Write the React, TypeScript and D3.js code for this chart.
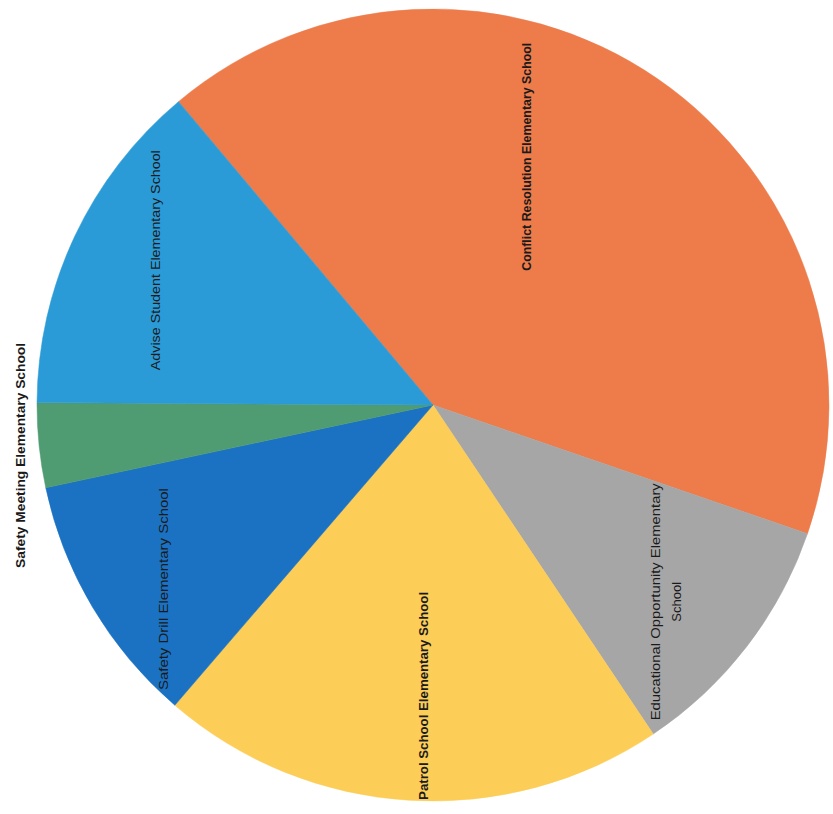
import React from "react";
import * as d3 from "d3";

// Data
const schools = [
  "Conflict Resolution Elementary School",
  "Educational Opportunity Elementary School",
  "Patrol School Elementary School",
  "Safety Drill Elementary School",
  "Safety Meeting Elementary School",
  "Advise Student Elementary School",
];
const counts = [12, 3, 6, 3, 1, 4];

// Styles / layout (not data)
const colors = ["#EE7B4A", "#A6A6A6", "#FCCD57", "#1B72C2", "#4F9B72", "#2B9BD7"];
const labelLines = [
  ["Conflict Resolution Elementary School"],
  ["Educational Opportunity Elementary", "School"],
  ["Patrol School Elementary School"],
  ["Safety Drill Elementary School"],
  ["Safety Meeting Elementary School"],
  ["Advise Student Elementary School"],
];
const labelBold = [true, false, true, false, true, false];
const labelAngleNudge = [-13.8, 2.6, -1.5, -3.6, -1.1, 2.4]; // degrees
const labelRadiusFrac = [0.67, 0.77, 0.735, 0.825, 1.05, 0.79];
const labelLength = [228, 237, 208, 202, 225, 220];

const W = 833;
const H = 814;
const cx = 433;
const cy = 405;
const R = 396;
const startDeg = -40;

export default function App() {
  const toRad = (d: number) => (d * Math.PI) / 180;
  const pie = d3
    .pie<number>()
    .sort(null)
    .value((d) => d)
    .startAngle(toRad(startDeg))
    .endAngle(toRad(startDeg + 360));
  const arcs = pie(counts);
  const arc = d3.arc<d3.PieArcDatum<number>>().innerRadius(0).outerRadius(R);

  return (
    <svg
      width={W}
      height={H}
      style={{ position: "absolute", left: 0, top: 0, background: "#fff" }}
    >
      <g transform={`translate(${cx},${cy})`}>
        {arcs.map((a, i) => (
          <path key={i} d={arc(a) || ""} fill={colors[i]} stroke={colors[i]} strokeWidth={0.5} />
        ))}
        {arcs.map((a, i) => {
          const mid = (a.startAngle + a.endAngle) / 2 + toRad(labelAngleNudge[i]);
          const r = R * labelRadiusFrac[i];
          const x = Math.sin(mid) * r;
          const y = -Math.cos(mid) * r;
          const lines = labelLines[i];
          const lh = 21;
          return (
            <g key={"l" + i} transform={`translate(${x},${y}) rotate(-90)`}>
              {lines.map((t, j) => (
                <text
                  key={j}
                  x={0}
                  y={(j - (lines.length - 1) / 2) * lh}
                  textAnchor="middle"
                  dominantBaseline="central"
                  fontFamily="'Liberation Sans Narrow', 'Liberation Sans', Arial, sans-serif"
                  fontSize={13}
                  fontWeight={labelBold[i] ? 700 : 400}
                  fill="#1a1a1a"
                  textLength={j === 0 ? labelLength[i] : undefined}
                  lengthAdjust="spacingAndGlyphs"
                >
                  {t}
                </text>
              ))}
            </g>
          );
        })}
      </g>
    </svg>
  );
}
